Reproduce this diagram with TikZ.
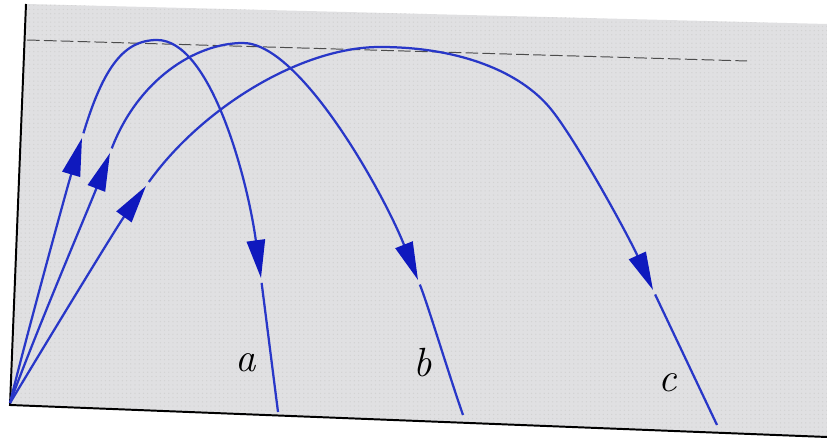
\documentclass[tikz,border=0pt]{standalone}
\usepackage{fontspec}
\usetikzlibrary{arrows.meta,patterns}
\definecolor{orbitblue}{RGB}{40,55,200}
\definecolor{tipblue}{RGB}{15,25,190}
\definecolor{groundgray}{RGB}{224,224,226}

\begin{document}
\begin{tikzpicture}[x=0.025cm,y=-0.025cm,font=\fontsize{29}{31}\selectfont\itshape,
  orbit/.style={draw=orbitblue,line width=1.6pt},
  tipped/.style={orbit,-{Triangle[length=27pt,width=13pt,color=tipblue]}},
  afterarrow/.style={orbit,shorten <=3.5pt},
  apex/.style={draw=black!70,line width=0.7pt,dash pattern=on 9pt off 3pt}]
  \useasboundingbox (0,0) rectangle (827,444);

  % Ground
  \path[fill=groundgray] (26,4) -- (827,24) -- (827,437) -- (10,405) -- cycle;
  \path[pattern=dots,pattern color=gray!35] (26,4) -- (827,24) -- (827,437) -- (10,405) -- cycle;
  \path[draw,line width=1.4pt] (26,4) -- (10,405) -- (827,437);

  % Top height
  \path[apex] (27,40) -- (747,61);

  % Points
  \coordinate (O) at (10,403);
  \coordinate (A1) at (82,138);  \coordinate (Pa) at (157,40);
  \coordinate (A2) at (261,278); \coordinate (Ea) at (278,412);
  \coordinate (B1) at (110,153); \coordinate (Pb) at (243,43);
  \coordinate (B2) at (418,280); \coordinate (Eb) at (463,415);
  \coordinate (C1) at (146,186); \coordinate (Pc) at (380,47);
  \coordinate (Kc) at (550,108);
  \coordinate (C2) at (653,290); \coordinate (Ec) at (717,425);

  % Path a
  \path[tipped] (O) .. controls (22,353) and (65,195) .. (A1);
  \path[tipped,shorten <=3.5pt] (A1) .. controls (104,65) and (125,40) .. (Pa)
    .. controls (210,40) and (247,176) .. (A2);
  \path[afterarrow] (A2) -- (Ea);

  % Path b
  \path[tipped] (O) .. controls (35,334) and (90,205) .. (B1);
  \path[tipped,shorten <=3.5pt] (B1) .. controls (138,80) and (195,43) .. (Pb)
    .. controls (300,43) and (383,192) .. (B2);
  \path[afterarrow] (B2) .. controls (428,305) and (448,372) .. (Eb);

  % Path c
  \path[tipped] (O) .. controls (40,353) and (116,228) .. (C1);
  \path[tipped,shorten <=3.5pt] (C1) .. controls (201,109) and (300,47) .. (Pc)
    .. controls (460,47) and (520,72) .. (Kc)
    .. controls (575,138) and (628,235) .. (C2);
  \path[afterarrow] (C2) -- (Ec);

  % Labels
  \node (la) at (246,363) {a};
  \node (lb) at (423,363) {b};
  \node (lc) at (668,383) {c};
\end{tikzpicture}
\end{document}
